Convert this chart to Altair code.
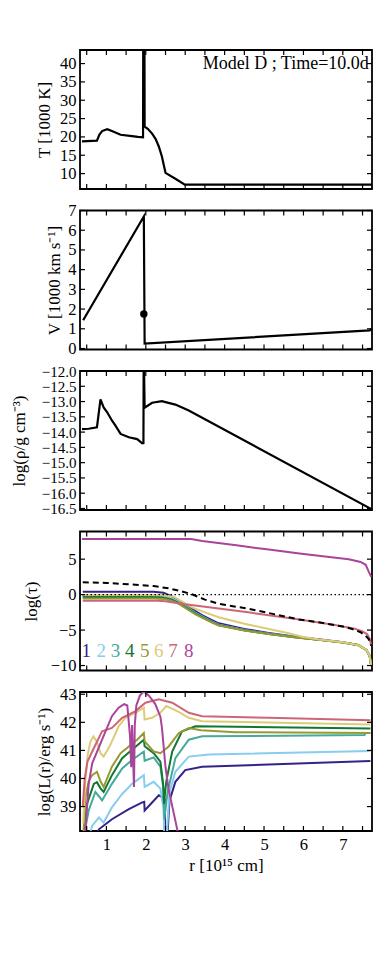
import altair as alt
import pandas as pd

FONT = "Liberation Serif"
W, H = 292, 139
XDOM = [0.33, 7.74]

# ---------------- Panel 1: temperature ----------------
t_r = [0.38, 0.76, 0.82, 0.89, 1.02, 1.14, 1.36, 1.65, 1.80, 1.93, 1.935, 1.965, 1.97, 2.05, 2.16, 2.25, 2.33, 2.41, 2.45, 2.50, 2.75, 2.99, 7.74]
t_v = [18.8, 19.0, 20.6, 21.6, 22.1, 21.6, 20.6, 20.2, 20.0, 19.9, 50.0, 50.0, 22.8, 22.2, 20.9, 19.4, 17.4, 14.6, 12.6, 10.2, 8.6, 7.0, 7.0]
note_text = ["Model D ; Time=10.0d"]

# ---------------- Panel 2: velocity ----------------
v_r = [0.41, 1.95, 1.97, 7.68, 7.74]
v_v = [1.43, 6.70, 0.25, 0.92, 1.00]
v_dot_r = [1.95]
v_dot_v = [1.75]

# ---------------- Panel 3: density ----------------
d_r = [0.38, 0.55, 0.76, 0.85, 0.93, 1.02, 1.14, 1.23, 1.36, 1.57, 1.78, 1.91, 1.94, 1.945, 1.955, 1.97, 2.16, 2.41, 2.50, 2.75, 3.09, 7.74]
d_v = [-13.90, -13.89, -13.84, -12.93, -13.19, -13.35, -13.62, -13.79, -14.06, -14.17, -14.23, -14.37, -14.36, -11.9, -11.9, -13.20, -13.04, -12.99, -13.02, -13.10, -13.29, -16.53]

# ---------------- Panel 4: optical depth ----------------
tau_names = ["1", "2", "3", "4", "5", "6", "7", "8"]
colors = ["#332288", "#88CCEE", "#44AA99", "#117733", "#999933", "#DDCC77", "#CC6677", "#AA4499"]

grp_r = [0.40, 2.20, 2.45, 2.65, 2.85, 3.05, 3.25, 3.45, 3.68, 3.85, 4.50, 5.12, 5.80, 6.39, 7.00, 7.40, 7.60, 7.68, 7.72]
tau1 = [0.42, 0.40, 0.25, -0.20, -0.85, -1.55, -2.30, -2.95, -3.60, -4.05, -4.85, -5.40, -5.95, -6.30, -6.70, -7.10, -7.80, -8.60, -10.0]
tau2 = [-0.10, -0.12, -0.25, -0.55, -1.10, -1.80, -2.55, -3.15, -3.80, -4.25, -5.00, -5.50, -6.00, -6.35, -6.72, -7.12, -7.82, -8.62, -10.0]
tau3 = [-0.25, -0.27, -0.38, -0.65, -1.20, -1.90, -2.60, -3.20, -3.85, -4.28, -5.02, -5.52, -6.02, -6.36, -6.73, -7.13, -7.83, -8.63, -10.0]
tau4 = [-0.35, -0.37, -0.47, -0.72, -1.25, -1.95, -2.65, -3.25, -3.88, -4.30, -5.04, -5.54, -6.03, -6.37, -6.74, -7.14, -7.84, -8.64, -10.0]
tau5 = [-0.55, -0.56, -0.62, -0.85, -1.35, -2.05, -2.75, -3.32, -3.93, -4.35, -5.07, -5.56, -6.05, -6.38, -6.75, -7.15, -7.85, -8.65, -10.0]
tau6_r = [0.40, 2.40, 2.70, 2.90, 3.17, 3.50, 3.85, 4.50, 5.12, 5.60, 5.97, 6.39, 7.00, 7.40, 7.60, 7.68, 7.72]
tau6 = [-0.05, -0.05, -0.30, -0.90, -1.80, -2.50, -3.20, -4.10, -4.84, -5.40, -5.95, -6.32, -6.72, -7.12, -7.82, -8.62, -10.0]
tau7_r = [0.40, 2.30, 2.50, 2.70, 3.00, 3.50, 4.60, 5.12, 5.90, 6.80, 7.30, 7.50, 7.62, 7.68, 7.72]
tau7 = [-0.85, -0.85, -0.95, -1.10, -1.35, -1.70, -2.50, -2.90, -3.50, -4.30, -4.80, -5.20, -5.60, -6.20, -7.20]
tau8_r = [0.38, 3.15, 3.43, 4.30, 5.12, 5.90, 6.60, 7.15, 7.45, 7.58, 7.66, 7.72]
tau8 = [7.83, 7.83, 7.55, 6.95, 6.35, 5.80, 5.35, 5.00, 4.60, 4.20, 3.20, 2.50]
taud_r = [0.40, 1.00, 1.74, 2.20, 2.58, 2.92, 3.17, 3.50, 3.85, 4.61, 5.12, 5.88, 6.39, 7.00, 7.24, 7.45, 7.57, 7.66, 7.72]
taud = [1.73, 1.65, 1.40, 1.20, 0.89, 0.45, 0.05, -0.70, -1.30, -2.00, -2.60, -3.50, -3.90, -4.50, -4.85, -5.30, -5.75, -6.30, -7.20]
label_r = [0.49, 0.87, 1.23, 1.59, 1.97, 2.33, 2.69, 3.09]
label_v = [-7.9] * 8

# ---------------- Panel 5: luminosity ----------------
L1_r = [0.75, 0.81, 1.14, 1.57, 1.91, 1.96, 1.97, 2.33, 2.48, 2.50, 2.53, 2.60, 2.75, 3.00, 3.43, 7.70]
L1 = [38.00, 38.19, 38.55, 38.91, 39.15, 39.17, 38.86, 39.40, 39.28, 37.50, 37.50, 39.20, 39.88, 40.30, 40.42, 40.62]
L2_r = [0.60, 0.64, 0.81, 0.93, 1.14, 1.40, 1.65, 1.95, 1.97, 2.20, 2.37, 2.45, 2.48, 2.51, 2.60, 2.75, 3.09, 3.60, 7.70]
L2 = [38.13, 38.32, 38.61, 38.43, 38.97, 39.45, 39.81, 40.12, 39.70, 39.88, 39.64, 38.90, 37.50, 37.50, 39.50, 40.24, 40.78, 40.85, 40.98]
L3_r = [0.45, 0.55, 0.72, 0.82, 0.89, 1.14, 1.40, 1.65, 1.95, 1.97, 2.20, 2.37, 2.45, 2.47, 2.55, 2.75, 3.09, 3.43, 7.55, 7.58, 7.70]
L3 = [38.10, 38.86, 39.52, 39.35, 39.22, 39.81, 40.36, 40.66, 40.96, 40.63, 40.75, 40.42, 39.60, 38.55, 39.50, 40.72, 41.38, 41.50, 41.55, 41.62, 41.62]
L4_r = [0.43, 0.51, 0.68, 0.76, 0.85, 0.93, 1.14, 1.40, 1.65, 1.95, 1.97, 2.20, 2.37, 2.44, 2.46, 2.52, 2.67, 2.92, 3.26, 7.70]
L4 = [38.10, 39.10, 39.81, 39.87, 39.65, 39.52, 40.12, 40.72, 41.02, 41.38, 41.15, 40.90, 40.60, 39.80, 39.10, 39.90, 40.96, 41.68, 41.86, 41.78]
L5_r = [0.42, 0.47, 0.55, 0.64, 0.76, 0.85, 0.93, 1.14, 1.36, 1.57, 1.78, 1.95, 1.97, 2.20, 2.37, 2.58, 2.84, 3.09, 3.40, 4.27, 7.70]
L5 = [38.10, 39.34, 39.90, 40.12, 40.24, 39.90, 39.70, 40.42, 40.90, 41.14, 41.38, 41.62, 41.32, 40.96, 40.90, 41.14, 41.62, 41.80, 41.72, 41.65, 41.62]
L6_r = [0.41, 0.46, 0.52, 0.59, 0.67, 0.76, 0.85, 0.93, 1.02, 1.10, 1.31, 1.48, 1.74, 1.95, 1.97, 2.16, 2.37, 2.52, 2.80, 3.09, 3.43, 7.70]
L6 = [38.40, 39.80, 40.80, 41.30, 41.50, 41.30, 40.90, 40.78, 41.00, 41.20, 41.86, 42.16, 42.34, 42.52, 42.10, 42.16, 42.34, 42.58, 42.40, 42.16, 42.04, 41.92]
L7_r = [0.40, 0.45, 0.52, 0.64, 0.89, 1.14, 1.40, 1.74, 1.99, 2.33, 2.67, 3.09, 3.43, 5.12, 7.70]
L7 = [39.00, 40.00, 40.60, 40.96, 41.68, 41.80, 42.16, 42.40, 42.70, 42.82, 42.70, 42.34, 42.22, 42.16, 42.07]
L8_r = [0.44, 0.47, 0.55, 0.64, 0.89, 1.14, 1.31, 1.45, 1.53, 1.60, 1.63, 1.65, 1.70, 1.72, 1.76, 1.85, 1.95, 2.08, 2.24, 2.37, 2.41, 2.50, 2.58, 2.75, 2.84]
L8 = [37.80, 38.25, 39.80, 40.54, 41.38, 42.22, 42.52, 42.65, 42.60, 41.50, 40.40, 41.90, 39.70, 41.90, 42.60, 42.95, 43.10, 42.95, 42.65, 42.20, 41.80, 40.40, 39.60, 38.50, 37.90]

# ---------------- ticks ----------------
x_minor = [0.5 * k for k in range(1, 16)]
x_labels = [1, 2, 3, 4, 5, 6, 7]
t_ticks = [10, 15, 20, 25, 30, 35, 40]
v_ticks = [0, 1, 2, 3, 4, 5, 6, 7]
d_ticks = [-12.0, -12.5, -13.0, -13.5, -14.0, -14.5, -15.0, -15.5, -16.0, -16.5]
tau_ticks = [5, 0, -5, -10]
L_ticks = [39, 40, 41, 42, 43]

LABEL_SIZE = 16.5
TITLE_SIZE = 17


def long(names, rlists, vlists):
    rows = []
    for n, rs, vs in zip(names, rlists, vlists):
        for i, (r, v) in enumerate(zip(rs, vs)):
            rows.append({"s": n, "r": r, "v": v, "i": i})
    return pd.DataFrame(rows)


def make_yaxis(title, values, title_x, fmt=None, label_size=LABEL_SIZE):
    kw = dict(values=values, title=title, ticks=False, tickSize=0, domain=False, grid=False,
              labelFont=FONT, labelFontSize=label_size, titleFont=FONT, titleFontSize=TITLE_SIZE,
              titleFontWeight="normal", labelColor="black", titleColor="black",
              labelPadding=4, labelOverlap=False, titleX=title_x, titleY=H / 2,
              titleBaseline="middle", titleAngle=270, titleAlign="center")
    if fmt:
        kw["format"] = fmt
    return alt.Axis(**kw)


X_AXIS_BOTTOM = alt.Axis(values=x_labels, title="r [10¹⁵ cm]", ticks=False, tickSize=0, domain=False,
                         grid=False, labelFont=FONT, labelFontSize=LABEL_SIZE, titleFont=FONT,
                         titleFontSize=TITLE_SIZE, titleFontWeight="normal", labelColor="black",
                         titleColor="black", labelPadding=5, titlePadding=5, format="d")


class Panel:
    def __init__(self, ydom, yaxis, xaxis=None):
        self.xs = alt.Scale(domain=XDOM, nice=False, zero=False)
        self.ys = alt.Scale(domain=ydom, nice=False, zero=False)
        self.yaxis = yaxis
        self.xaxis = xaxis

    def X(self, f="r"):
        return alt.X(f"{f}:Q", scale=self.xs, axis=self.xaxis)

    def Y(self, f="v"):
        return alt.Y(f"{f}:Q", scale=self.ys, axis=self.yaxis)

    def ticks(self, yvals):
        xdf = pd.DataFrame({"r": x_minor})
        ydf = pd.DataFrame({"v": yvals})
        L = []
        for y0, y1 in [(0, 5), (H, H - 5)]:
            L.append(alt.Chart(xdf).mark_rule(color="black", strokeWidth=1.2).encode(
                x=self.X(), y=alt.value(y0), y2=alt.value(y1)))
        for x0, x1 in [(0, 5), (W, W - 5)]:
            L.append(alt.Chart(ydf).mark_rule(color="black", strokeWidth=1.2).encode(
                y=self.Y(), x=alt.value(x0), x2=alt.value(x1)))
        return L


COLOR = alt.Color("s:N", scale=alt.Scale(domain=tau_names, range=colors), legend=None)

# Panel 1
P = Panel([5.8, 43.7], make_yaxis("T [1000 K]", t_ticks, -35.5))
df_t = pd.DataFrame({"r": t_r, "v": t_v, "i": range(len(t_r))})
p1_line = alt.Chart(df_t).mark_line(color="black", strokeWidth=2.2, clip=True).encode(
    x=P.X(), y=P.Y(), order="i:Q")
p1_text = alt.Chart(pd.DataFrame({"r": [7.66], "v": [39.9], "t": note_text})).mark_text(
    font=FONT, fontSize=18, align="right", baseline="middle", color="black"
).encode(x=P.X(), y=P.Y(), text="t:N")
p1 = alt.layer(p1_line, p1_text, *P.ticks(t_ticks)).properties(width=W, height=H)

# Panel 2
P = Panel([-0.05, 7.0], make_yaxis("V [1000 km s⁻¹]", v_ticks, -25.5))
df_v = pd.DataFrame({"r": v_r, "v": v_v, "i": range(len(v_r))})
p2_line = alt.Chart(df_v).mark_line(color="black", strokeWidth=2.2, clip=True).encode(
    x=P.X(), y=P.Y(), order="i:Q")
p2_dot = alt.Chart(pd.DataFrame({"r": v_dot_r, "v": v_dot_v})).mark_point(
    filled=True, color="black", size=55, opacity=1).encode(x=P.X(), y=P.Y())
p2 = alt.layer(p2_line, p2_dot, *P.ticks(v_ticks)).properties(width=W, height=H)

# Panel 3
P = Panel([-16.55, -12.0], make_yaxis("log(ρ/g cm⁻³)", d_ticks, -60.5, ".1f", 15))
df_d = pd.DataFrame({"r": d_r, "v": d_v, "i": range(len(d_r))})
p3_line = alt.Chart(df_d).mark_line(color="black", strokeWidth=2.2, clip=True).encode(
    x=P.X(), y=P.Y(), order="i:Q")
p3 = alt.layer(p3_line, *P.ticks(d_ticks)).properties(width=W, height=H)

# Panel 4
P = Panel([-10.7, 8.9], make_yaxis("log(τ)", tau_ticks, -48.5))
df_tau = long(tau_names,
              [grp_r, grp_r, grp_r, grp_r, grp_r, tau6_r, tau7_r, tau8_r],
              [tau1, tau2, tau3, tau4, tau5, tau6, tau7, tau8])
p4_lines = alt.Chart(df_tau).mark_line(strokeWidth=2, clip=True).encode(
    x=P.X(), y=P.Y(), color=COLOR, order="i:Q")
p4_dash = alt.Chart(pd.DataFrame({"r": taud_r, "v": taud, "i": range(len(taud_r))})).mark_line(
    color="black", strokeWidth=2, strokeDash=[6, 4], clip=True).encode(x=P.X(), y=P.Y(), order="i:Q")
p4_zero = alt.Chart(pd.DataFrame({"v": [0]})).mark_rule(
    color="black", strokeWidth=1.3, strokeDash=[1.5, 2.5]).encode(y=P.Y())
p4_lab = alt.Chart(pd.DataFrame({"r": label_r, "s": tau_names, "v": label_v})).mark_text(
    font=FONT, fontSize=19, baseline="middle", align="center").encode(
    x=P.X(), y=P.Y(), text="s:N", color=COLOR)
p4 = alt.layer(p4_lines, p4_dash, p4_zero, p4_lab, *P.ticks(tau_ticks)).properties(width=W, height=H)

# Panel 5
P = Panel([38.13, 43.08], make_yaxis("log(L(r)/erg s⁻¹)", L_ticks, -35.5), X_AXIS_BOTTOM)
df_L = long(tau_names,
            [L1_r, L2_r, L3_r, L4_r, L5_r, L6_r, L7_r, L8_r],
            [L1, L2, L3, L4, L5, L6, L7, L8])
p5_lines = alt.Chart(df_L).mark_line(strokeWidth=2, clip=True).encode(
    x=P.X(), y=P.Y(), color=COLOR, order="i:Q")
p5 = alt.layer(p5_lines, *P.ticks(L_ticks)).properties(width=W, height=H)

chart = alt.vconcat(p1, p2, p3, p4, p5, spacing=21.5, bounds="flush").properties(
    padding={"left": 1, "top": 40, "right": 5, "bottom": 5}
).configure_view(stroke="black", strokeWidth=1.8).configure_axis(
    labelFont=FONT, titleFont=FONT
).configure_text(font=FONT)

chart.save("out.html", embed_options={"renderer": "svg", "actions": False})
